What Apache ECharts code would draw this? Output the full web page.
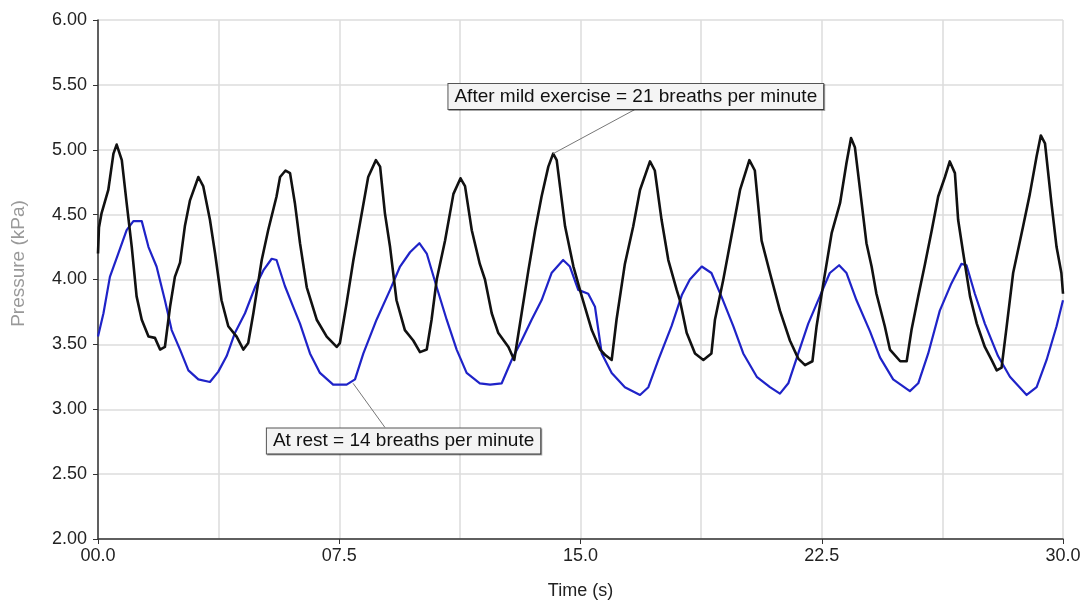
<!DOCTYPE html>
<html>
<head>
<meta charset="utf-8">
<title>Breathing pressure</title>
<script src="https://cdn.jsdelivr.net/npm/echarts@6/dist/echarts.min.js"></script>
<style>
	html, body { margin: 0; padding: 0; background: #fff; }
	#chart { width: 1081px; height: 600px; }
</style>
</head>
<body>
<div id="chart"></div>
<script>
// 读图得到的数据：时间(s) / 压力(kPa)
var exerciseTime = [0.00,0.03,0.11,0.32,0.48,0.58,0.74,0.89,1.05,1.20,1.36,1.57,1.77,1.93,2.08,2.24,2.39,2.55,2.70,2.86,3.12,3.27,3.48,3.64,3.84,4.05,4.31,4.52,4.67,4.83,5.09,5.29,5.55,5.66,5.83,5.97,6.12,6.28,6.49,6.80,7.11,7.42,7.52,7.73,7.94,8.20,8.40,8.64,8.77,8.92,9.08,9.28,9.54,9.80,10.01,10.22,10.37,10.53,10.79,11.05,11.27,11.41,11.62,11.87,12.03,12.24,12.44,12.76,12.94,13.17,13.38,13.59,13.79,14.00,14.15,14.26,14.52,14.78,15.04,15.35,15.61,15.76,15.97,16.12,16.38,16.64,16.85,17.16,17.31,17.52,17.73,17.99,18.09,18.30,18.56,18.82,19.07,19.18,19.44,19.75,19.96,20.25,20.42,20.63,20.89,21.20,21.51,21.77,21.98,22.21,22.34,22.55,22.81,23.07,23.27,23.41,23.53,23.74,23.89,24.05,24.20,24.46,24.62,24.94,25.14,25.29,25.50,25.71,25.92,26.12,26.33,26.48,26.64,26.74,26.90,27.11,27.32,27.57,27.78,27.94,28.09,28.25,28.45,28.76,28.97,29.18,29.31,29.44,29.64,29.80,29.95,30.00];
var exercisePressure = [4.20,4.40,4.51,4.69,4.97,5.04,4.92,4.59,4.25,3.87,3.69,3.56,3.55,3.46,3.48,3.79,4.02,4.13,4.41,4.61,4.79,4.72,4.46,4.20,3.84,3.64,3.56,3.46,3.51,3.74,4.15,4.38,4.64,4.79,4.84,4.82,4.59,4.28,3.94,3.69,3.56,3.48,3.51,3.82,4.15,4.51,4.79,4.92,4.87,4.51,4.25,3.84,3.61,3.53,3.44,3.46,3.69,4.00,4.30,4.66,4.78,4.72,4.38,4.12,4.00,3.74,3.59,3.48,3.38,3.74,4.07,4.38,4.64,4.87,4.97,4.92,4.41,4.10,3.87,3.61,3.46,3.42,3.38,3.69,4.12,4.41,4.69,4.91,4.84,4.46,4.15,3.92,3.84,3.59,3.43,3.38,3.43,3.69,4.00,4.41,4.69,4.92,4.84,4.30,4.05,3.76,3.53,3.39,3.34,3.37,3.64,3.97,4.36,4.59,4.90,5.09,5.02,4.59,4.28,4.10,3.89,3.64,3.46,3.37,3.37,3.61,3.87,4.12,4.38,4.64,4.79,4.91,4.82,4.46,4.20,3.87,3.66,3.48,3.38,3.30,3.32,3.64,4.05,4.41,4.66,4.95,5.11,5.05,4.59,4.25,4.05,3.89];

var restTime = [0.00,0.17,0.37,0.63,0.89,1.10,1.36,1.57,1.82,2.08,2.29,2.55,2.81,3.12,3.48,3.74,4.00,4.26,4.57,4.88,5.14,5.40,5.55,5.81,6.05,6.28,6.59,6.90,7.31,7.73,7.99,8.25,8.66,9.08,9.39,9.70,9.99,10.22,10.53,10.84,11.15,11.46,11.87,12.19,12.55,12.86,13.17,13.48,13.79,14.10,14.46,14.67,14.93,15.24,15.45,15.66,15.97,16.38,16.85,17.11,17.42,17.83,18.15,18.40,18.77,19.07,19.38,19.75,20.06,20.48,20.89,21.20,21.46,21.77,22.08,22.44,22.75,23.04,23.27,23.58,24.00,24.31,24.72,25.24,25.50,25.81,26.17,26.53,26.84,27.00,27.26,27.57,27.98,28.35,28.87,29.18,29.49,29.80,30.00];
var restPressure = [3.56,3.74,4.02,4.20,4.38,4.45,4.45,4.25,4.10,3.84,3.61,3.46,3.30,3.23,3.21,3.29,3.41,3.59,3.74,3.94,4.07,4.16,4.15,3.95,3.80,3.66,3.43,3.28,3.19,3.19,3.23,3.43,3.69,3.92,4.10,4.21,4.28,4.20,3.94,3.69,3.46,3.28,3.20,3.19,3.20,3.38,3.53,3.69,3.84,4.05,4.15,4.10,3.92,3.89,3.79,3.43,3.28,3.17,3.11,3.17,3.38,3.64,3.88,4.00,4.10,4.05,3.87,3.64,3.43,3.25,3.17,3.12,3.20,3.43,3.66,3.87,4.05,4.11,4.05,3.84,3.60,3.40,3.23,3.14,3.20,3.43,3.76,3.97,4.12,4.11,3.89,3.66,3.41,3.25,3.11,3.17,3.38,3.64,3.84];

var yTicks = ['2.00','2.50','3.00','3.50','4.00','4.50','5.00','5.50','6.00'];
var xTicks = ['00.0','07.5','15.0','22.5','30.0'];

var exerciseLabel = 'After mild exercise = 21 breaths per minute';
var restLabel = 'At rest = 14 breaths per minute';

function zip(xs, ys){
	return xs.map(function(x, i){ return [x, ys[i]]; });
}

var font = 'Arial, "Liberation Sans", sans-serif';
function boxLabel(text){
	return {
		show: true,
		position: 'inside',
		formatter: text,
		color: '#111',
		fontSize: 19,
		fontFamily: font,
		backgroundColor: '#f4f4f4',
		borderColor: '#555',
		borderWidth: 1,
		padding: [4, 6, 2, 6],
		shadowColor: 'rgba(0,0,0,0.35)',
		shadowOffsetX: 1,
		shadowOffsetY: 1
	};
}
var leader = { color: '#777', width: 1, type: 'solid' };

var myChart = echarts.init(document.getElementById('chart'));
var option = {
	animation: false,
	backgroundColor: '#fff',
	grid: { left: 98, right: 18, top: 20, bottom: 61, outerBoundsMode: 'none', containLabel: false },
	xAxis: {
		type: 'value',
		min: 0, max: 30, interval: 7.5,
		name: 'Time (s)',
		nameLocation: 'middle',
		nameGap: 43,
		nameTextStyle: { color: '#222', fontSize: 18, fontFamily: font },
		axisLine: { lineStyle: { color: '#333', width: 1.5 } },
		axisTick: { show: true, length: 5, lineStyle: { color: '#333' } },
		axisLabel: {
			color: '#222', fontSize: 18, fontFamily: font, margin: 8,
			formatter: function(v){ return xTicks[Math.round(v / 7.5)]; }
		},
		splitLine: { show: true, lineStyle: { color: '#dcdcdc', width: 1.5 } },
		minorTick: { show: false, splitNumber: 2 },
		minorSplitLine: { show: true, lineStyle: { color: '#dcdcdc', width: 1.5 } }
	},
	yAxis: {
		type: 'value',
		min: 2, max: 6, interval: 0.5,
		name: 'Pressure (kPa)',
		nameLocation: 'middle',
		nameGap: 70,
		nameTextStyle: { color: '#999', fontSize: 19, fontFamily: font, padding: [0, 0, 0, 32] },
		axisLine: { show: true, lineStyle: { color: '#333', width: 1.5 } },
		axisTick: { show: true, length: 5, lineStyle: { color: '#333' } },
		axisLabel: {
			color: '#222', fontSize: 18, fontFamily: font, margin: 11,
			formatter: function(v){ return yTicks[Math.round((v - 2) / 0.5)]; }
		},
		splitLine: { show: true, lineStyle: { color: '#dcdcdc', width: 1.5 } }
	},
	series: [{
		name: 'At rest',
		type: 'line',
		data: zip(restTime, restPressure),
		showSymbol: false,
		smooth: false,
		lineStyle: { color: '#1f23c8', width: 2.2, join: 'round' },
		markLine: {
			silent: true,
			symbol: 'none',
			label: { show: false },
			lineStyle: leader,
			data: [[{ coord: [7.93, 3.20] }, { coord: [8.92, 2.86] }]]
		},
		markPoint: {
			silent: true,
			symbol: 'rect',
			symbolSize: 1,
			itemStyle: { color: 'rgba(0,0,0,0)' },
			data: [{ name: 'rest', coord: [9.50, 2.755], label: boxLabel(restLabel) }]
		}
	}, {
		name: 'After mild exercise',
		type: 'line',
		data: zip(exerciseTime, exercisePressure),
		showSymbol: false,
		smooth: false,
		lineStyle: { color: '#111', width: 2.6, join: 'round' },
		markLine: {
			silent: true,
			symbol: 'none',
			label: { show: false },
			lineStyle: leader,
			data: [[{ coord: [14.15, 4.97] }, { coord: [16.69, 5.31] }]]
		},
		markPoint: {
			silent: true,
			symbol: 'rect',
			symbolSize: 1,
			itemStyle: { color: 'rgba(0,0,0,0)' },
			data: [{ name: 'exercise', coord: [16.72, 5.41], label: boxLabel(exerciseLabel) }]
		}
	}]
};
myChart.setOption(option);
</script>
</body>
</html>
